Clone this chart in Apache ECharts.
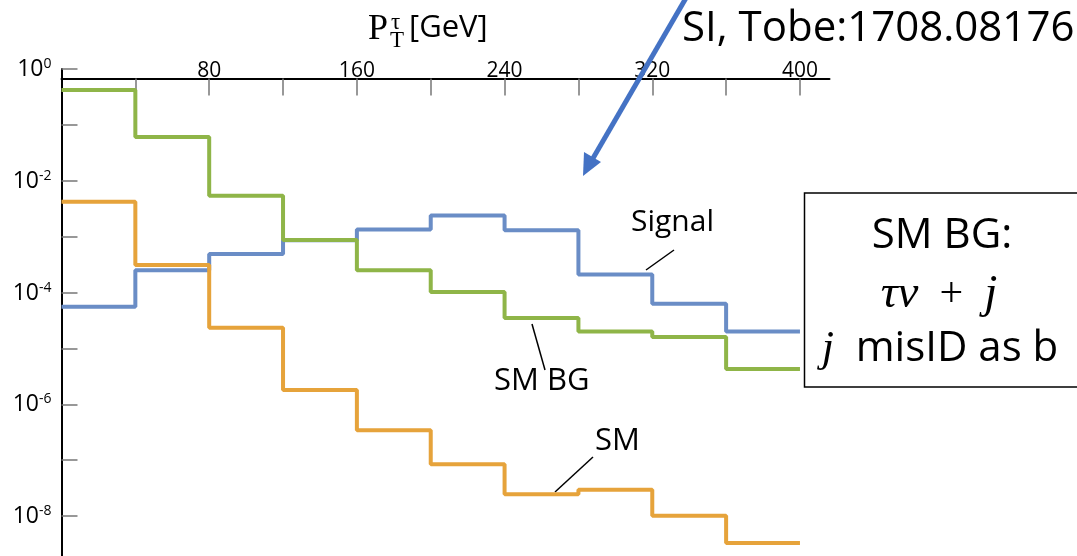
<!DOCTYPE html>
<html>
<head>
<meta charset="utf-8">
<script src="https://cdn.jsdelivr.net/npm/echarts@6/dist/echarts.min.js"></script>
<style>html,body{margin:0;padding:0;background:#fff;}#c{width:1077px;height:556px;}</style>
</head>
<body>
<div id="c"></div>
<script>
// Bin lower edges (GeV), bin width 40
const binEdges = [0, 40, 80, 120, 160, 200, 240, 280, 320, 360, 400];
// Series values per bin (log scale)
const signal = [5.6e-5, 2.5e-4, 4.9e-4, 8.6e-4, 1.35e-3, 2.4e-3, 1.3e-3, 2.1e-4, 6.3e-5, 2.0e-5];
const smBG   = [0.42, 0.061, 5.4e-3, 8.7e-4, 2.5e-4, 1.02e-4, 3.5e-5, 2.0e-5, 1.6e-5, 4.3e-6];
const sm     = [4.2e-3, 3.1e-4, 2.35e-5, 1.8e-6, 3.45e-7, 8.5e-8, 2.46e-8, 2.95e-8, 1.02e-8, 3.3e-9];
// Tick labels
const xTickValues = [40, 80, 120, 160, 200, 240, 280, 320, 360, 400];
const xLabelValues = [80, 160, 240, 320, 400];
const yLabelExponents = [0, -2, -4, -6, -8];

function stepData(vals) {
  const d = vals.map((v, i) => [binEdges[i], v]);
  d.push([binEdges[binEdges.length - 1], vals[vals.length - 1]]);
  return d;
}

const chart = echarts.init(document.getElementById('c'), null, {renderer: 'canvas'});
const sans = '"Open Sans", sans-serif';
const serif = '"Liberation Serif", "DejaVu Serif", serif';

const option = {
  animation: false,
  backgroundColor: '#fff',
  grid: {left: 61.5, top: 69, width: 768, height: 503, containLabel: false, outerBoundsMode: 'none'},
  xAxis: {
    type: 'value', position: 'top', min: 0, max: 416, offset: -9.5,
    axisLine: {show: true, lineStyle: {color: '#000', width: 2}},
    axisTick: {show: true, inside: true, length: 17, customValues: xTickValues, lineStyle: {color: '#777', width: 1.5}},
    axisLabel: {show: true, customValues: xLabelValues, margin: -3, color: '#000', fontSize: 21, fontFamily: sans},
    splitLine: {show: false}
  },
  yAxis: {
    type: 'log', logBase: 10, min: 1e-9, max: 1, interval: 1,
    axisLine: {show: true, lineStyle: {color: '#000', width: 2}},
    axisTick: {show: true, inside: true, length: 16, lineStyle: {color: '#777', width: 1.5}},
    axisLabel: {
      show: true, margin: 10, color: '#000',
      formatter: function (v) {
        const e = Math.round(Math.log10(v));
        if (yLabelExponents.indexOf(e) < 0) return '';
        return '{b|10}{s|' + e + '}';
      },
      rich: {
        b: {fontSize: 23, fontFamily: sans, color: '#000', verticalAlign: 'bottom', lineHeight: 24},
        s: {fontSize: 14, fontFamily: sans, color: '#000', verticalAlign: 'top', lineHeight: 24, padding: [0, 0, 10, 0]}
      }
    },
    splitLine: {show: false}
  },
  series: [
    {name: 'Signal', type: 'line', step: 'end', data: stepData(signal), symbol: 'none',
     lineStyle: {color: '#6a8dc6', width: 4}, z: 2},
    {name: 'SM', type: 'line', step: 'end', data: stepData(sm), symbol: 'none',
     lineStyle: {color: '#e6a33b', width: 4}, z: 3},
    {name: 'SM BG', type: 'line', step: 'end', data: stepData(smBG), symbol: 'none',
     lineStyle: {color: '#8fb548', width: 4}, z: 4}
  ],
  graphic: [
    // axis title P_T^tau [GeV]
    {type: 'text', left: 368, top: 12, style: {text: 'P', font: '36px ' + serif, fill: '#000'}},
    {type: 'text', left: 391, top: 11, style: {text: 'τ', font: '23px ' + serif, fill: '#000'}},
    {type: 'text', left: 390, top: 29, style: {text: 'T', font: '23px ' + serif, fill: '#000'}},
    {type: 'text', left: 409, top: 13, style: {text: '[GeV]', font: '31px ' + sans, fill: '#000'}},
    // reference
    {type: 'text', left: 682, top: 8, style: {text: 'SI, Tobe:1708.08176', font: '42px ' + sans, fill: '#000'}},
    // blue arrow
    {type: 'line', shape: {x1: 686, y1: -2, x2: 592, y2: 160}, style: {stroke: '#4472c4', lineWidth: 5}, z: 10},
    {type: 'polygon', shape: {points: [[583, 176], [584, 152], [601, 162]]}, style: {fill: '#4472c4'}, z: 10},
    // labels and leader lines
    {type: 'text', left: 631, top: 207, style: {text: 'Signal', font: '30px ' + sans, fill: '#000'}},
    {type: 'line', shape: {x1: 646, y1: 270, x2: 674, y2: 250}, style: {stroke: '#000', lineWidth: 1.5}},
    {type: 'text', left: 494, top: 366, style: {text: 'SM BG', font: '31px ' + sans, fill: '#000'}},
    {type: 'line', shape: {x1: 532, y1: 324, x2: 545, y2: 370}, style: {stroke: '#000', lineWidth: 1.5}},
    {type: 'text', left: 595, top: 426, style: {text: 'SM', font: '31px ' + sans, fill: '#000'}},
    {type: 'line', shape: {x1: 555, y1: 492, x2: 593, y2: 457}, style: {stroke: '#000', lineWidth: 1.5}},
    // box
    {type: 'rect', shape: {x: 804.5, y: 193, width: 300, height: 194}, style: {fill: '#fff', stroke: '#000', lineWidth: 1.5}, z: 20},
    {type: 'text', x: 942, y: 236, z: 21, style: {text: 'SM BG:', font: '42px ' + sans, fill: '#000', align: 'center', verticalAlign: 'middle'}},
    {type: 'text', x: 939, y: 295, z: 21, style: {
      text: '{m|τν}{o|  +  }{m|j}', align: 'center', verticalAlign: 'middle',
      rich: {m: {font: 'italic 47px ' + serif, fill: '#000'}, o: {font: '42px ' + serif, fill: '#000'}}
    }},
    {type: 'text', x: 940, y: 349, z: 21, style: {
      text: '{m|j}{s|  misID as b}', align: 'center', verticalAlign: 'middle',
      rich: {m: {font: 'italic 44px ' + serif, fill: '#000'}, s: {font: '42px ' + sans, fill: '#000'}}
    }}
  ]
};
chart.setOption(option);
</script>
</body>
</html>
